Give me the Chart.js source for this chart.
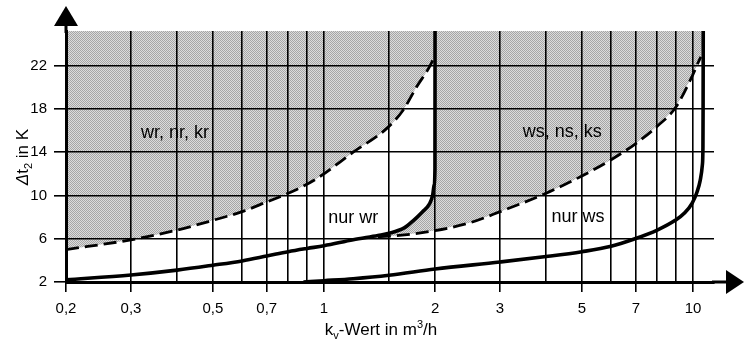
<!DOCTYPE html>
<html>
<head>
<meta charset="utf-8">
<script src="https://cdn.jsdelivr.net/npm/chart.js@4/dist/chart.umd.min.js"></script>
<style>
html,body{margin:0;padding:0;background:#fff;}
#wrap{width:744px;height:342px;}
</style>
</head>
<body>
<div id="wrap"><canvas id="c" width="744" height="342"></canvas></div>
<script>
// ---- Data ----
const xGridValues  = [0.2,0.3,0.4,0.5,0.6,0.7,0.8,0.9,1,1.5,2,3,4,5,6,7,8,9,10];
const xLabelValues = [0.2,0.3,0.5,0.7,1,2,3,5,7,10];
const xTickLabels  = ['0,2','0,3','0,5','0,7','1','2','3','5','7','10'];
const yTickValues  = [2,6,10,14,18,22];
const yMin = 2, yMax = 25.2, xMin = 0.2, xMax = 11.4;

// dashed boundary "wr, nr, kr"
const wrDashX = [0.2,0.3,0.4,0.5,0.6,0.7,0.8,0.95,1.2,1.48,1.64,1.78,1.94,1.99];
const wrDashY = [5.0,5.9,6.8,7.7,8.5,9.4,10.2,11.5,14.0,16.2,17.9,20.0,22.0,22.8];
// solid boundary "nur wr"
const wrSolidX = [0.2,0.3,0.4,0.5,0.6,0.7,0.8,0.9,1.0,1.2,1.4,1.5,1.65,1.75,1.85,1.93,1.97,1.99,1.999,2.0];
const wrSolidY = [2.2,2.65,3.1,3.55,3.95,4.4,4.8,5.1,5.35,5.9,6.3,6.5,7.0,7.7,8.5,9.2,10.0,11.0,12.5,25.2];
// dashed boundary "ws, ns, ks"
const wsDashX = [1.4,1.6,2.0,2.5,3.0,4.0,5.0,6.0,7.0,8.0,9.0,10.0,10.3,10.5];
const wsDashY = [6.2,6.3,6.75,7.5,8.5,10.2,11.8,13.3,14.8,16.4,18.2,21.2,22.2,22.8];
// solid boundary "nur ws"
const wsSolidX = [0.88,1.0,1.2,1.5,2.0,3.0,4.0,5.0,6.0,6.9,8.0,8.95,9.5,9.95,10.25,10.46,10.6,10.64,10.65,10.66];
const wsSolidY = [2.0,2.12,2.3,2.62,3.2,3.85,4.35,4.8,5.3,5.95,6.8,7.7,8.4,9.3,10.3,11.4,12.8,14.5,18.0,25.2];

const regionLabels = ['wr, nr, kr','ws, ns, ks','nur wr','nur ws'];
const regionAnchorX = [0.395,4.42,1.2,4.88];
const regionAnchorY = [15.3,15.4,7.45,7.55];

// ---- helpers ----
const pts = (xs, ys) => xs.map((x, i) => ({x, y: ys[i]}));
const FONT = "'Liberation Sans', Arial, Helvetica, sans-serif";

// shaded region 2: right of solid wr curve, above dashed ws curve, left of solid ws curve
const region2 = [];
wrSolidX.forEach((x, i) => { if (x >= wsDashX[0]) region2.push({x, y: wrSolidY[i]}); });
for (let i = wsSolidX.length - 1; i >= 0; i--) {
  if (wsSolidY[i] >= wsDashY[wsDashY.length - 1]) region2.push({x: wsSolidX[i], y: wsSolidY[i]});
}
for (let i = wsDashX.length - 1; i >= 0; i--) region2.push({x: wsDashX[i], y: wsDashY[i]});

const canvas = document.getElementById('c');
const mainCtx = canvas.getContext('2d');
function makePattern() {
  const c = document.createElement('canvas'); c.width = 2; c.height = 2;
  const g = c.getContext('2d');
  g.fillStyle = '#dcdcdc'; g.fillRect(0, 0, 2, 2);
  g.fillStyle = '#a6a6a6'; g.fillRect(0, 0, 1, 1); g.fillRect(1, 1, 1, 1);
  return mainCtx.createPattern(c, 'repeat');
}
const shade = makePattern();

function drawRich(ctx, parts, cx, baseline) {
  let total = 0;
  parts.forEach(p => { ctx.font = (p.italic ? 'italic ' : '') + p.size + 'px ' + FONT; p.w = ctx.measureText(p.t).width; total += p.w; });
  let x = cx - total / 2;
  ctx.textAlign = 'left'; ctx.textBaseline = 'alphabetic';
  parts.forEach(p => { ctx.font = (p.italic ? 'italic ' : '') + p.size + 'px ' + FONT; ctx.fillText(p.t, x, baseline + (p.dy || 0)); x += p.w; });
}

const decor = {
  id: 'decor',
  afterDraw(chart) {
    const {ctx, chartArea: a, scales: {x, y}} = chart;
    ctx.save();
    ctx.fillStyle = '#000'; ctx.strokeStyle = '#000';
    ctx.lineWidth = 3;
    // y-axis extension and arrow
    ctx.beginPath(); ctx.moveTo(a.left, a.top + 2); ctx.lineTo(a.left, 24); ctx.stroke();
    ctx.beginPath(); ctx.moveTo(a.left, 6); ctx.lineTo(a.left - 12, 26); ctx.lineTo(a.left + 12, 26); ctx.closePath(); ctx.fill();
    // x-axis extension and arrow
    const yb = a.bottom;
    ctx.beginPath(); ctx.moveTo(a.right - 2, yb); ctx.lineTo(chart.width - 15, yb); ctx.stroke();
    ctx.beginPath(); ctx.moveTo(chart.width, yb); ctx.lineTo(chart.width - 18, yb - 12); ctx.lineTo(chart.width - 18, yb + 12); ctx.closePath(); ctx.fill();
    // region labels
    ctx.font = '18px ' + FONT; ctx.textAlign = 'center'; ctx.textBaseline = 'alphabetic';
    regionLabels.forEach((t, i) => {
      ctx.fillText(t, x.getPixelForValue(regionAnchorX[i]), y.getPixelForValue(regionAnchorY[i]));
    });
    // x-axis title
    drawRich(ctx, [
      {t: 'k', size: 17}, {t: 'v', size: 11, dy: 4}, {t: '-Wert in m', size: 17},
      {t: '3', size: 11, dy: -7}, {t: '/h', size: 17}
    ], (a.left + a.right) / 2 - 9, 335);
    // y-axis title
    ctx.translate(28, 157);
    ctx.rotate(-Math.PI / 2);
    drawRich(ctx, [
      {t: 'Δ', size: 17, italic: true}, {t: 't', size: 17}, {t: '2', size: 11, dy: 4}, {t: ' in K', size: 17}
    ], 0, 0);
    ctx.restore();
  }
};

const lineBase = {showLine: true, pointRadius: 0, pointHoverRadius: 0, borderColor: '#000', cubicInterpolationMode: 'monotone', fill: false};

new Chart(canvas, {
  type: 'scatter',
  data: {
    datasets: [
      {label: 'shade2', data: region2, showLine: true, pointRadius: 0, borderWidth: 0, borderColor: 'rgba(0,0,0,0)', backgroundColor: shade, fill: 'shape', tension: 0, order: 10},
      Object.assign({}, lineBase, {label: 'wr dashed', data: pts(wrDashX, wrDashY), borderWidth: 2.8, borderDash: [13, 6], backgroundColor: shade, fill: 'end', order: 9}),
      Object.assign({}, lineBase, {label: 'ws dashed', data: pts(wsDashX, wsDashY), borderWidth: 2.8, borderDash: [13, 6], order: 3}),
      Object.assign({}, lineBase, {label: 'nur wr', data: pts(wrSolidX, wrSolidY), borderWidth: 3.6, order: 2}),
      Object.assign({}, lineBase, {label: 'nur ws', data: pts(wsSolidX, wsSolidY), borderWidth: 3.6, order: 1})
    ]
  },
  options: {
    responsive: false,
    animation: false,
    devicePixelRatio: 1,
    layout: {padding: {top: 31, right: 30, left: 0, bottom: 0}},
    plugins: {legend: {display: false}, tooltip: {enabled: false}},
    scales: {
      x: {
        type: 'logarithmic', min: xMin, max: xMax, position: 'bottom',
        afterBuildTicks: s => { s.ticks = xGridValues.map(v => ({value: v})); },
        afterFit: s => { s.height = 60; },
        ticks: {
          autoSkip: false, maxRotation: 0, minRotation: 0, padding: 8, color: '#000',
          font: {size: 15, family: FONT},
          callback: v => { const i = xLabelValues.indexOf(v); return i >= 0 ? xTickLabels[i] : ''; }
        },
        grid: {
          z: 1,
          color: '#000', lineWidth: 1.6, tickLength: 10, tickWidth: 1.6,
          tickColor: c => (c.tick && xLabelValues.indexOf(c.tick.value) >= 0) ? '#000' : 'rgba(0,0,0,0)'
        },
        border: {display: true, color: '#000', width: 3, z: 2}
      },
      y: {
        type: 'linear', min: yMin, max: yMax,
        afterBuildTicks: s => { s.ticks = yTickValues.map(v => ({value: v})); },
        afterFit: s => { s.width = 66; },
        ticks: {padding: 7, color: '#000', font: {size: 15, family: FONT}},
        grid: {z: 1, color: '#000', lineWidth: 1.6, tickLength: 12, tickWidth: 1.6, tickColor: '#000'},
        border: {display: true, color: '#000', width: 3, z: 2}
      }
    }
  },
  plugins: [decor]
});
</script>
</body>
</html>
